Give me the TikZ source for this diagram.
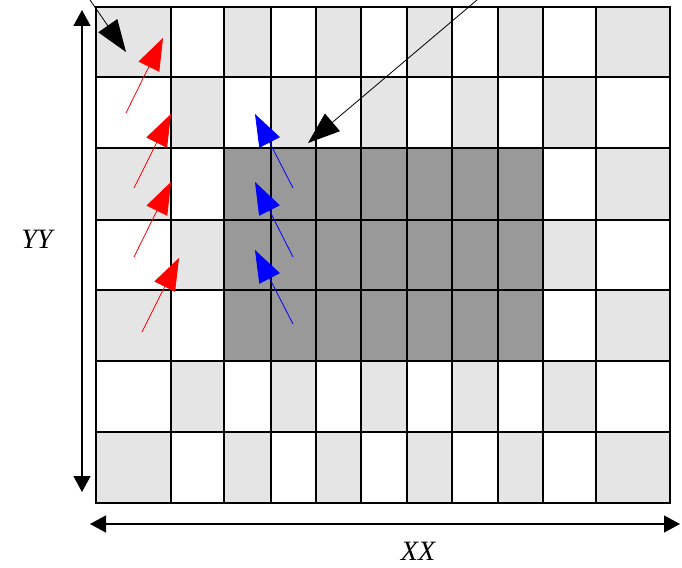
\documentclass[tikz,border=0pt]{standalone}
\usepackage{fontspec}
\setmainfont{Liberation Serif}
\usetikzlibrary{arrows.meta, positioning}

\begin{document}
\begin{tikzpicture}[
    x=1pt, y=-1pt,
    lightcell/.style={fill=black!10},
    darkcell/.style={fill=black!40},
    gridline/.style={draw=black, line width=1.3pt, line cap=rect},
    axis/.style={line width=1.4pt, {Triangle[length=16pt, width=17pt]}-{Triangle[length=16pt, width=17pt]}},
    pointer/.style={line width=0.8pt, -{Triangle[length=32pt, width=23pt]}},
    axislabel/.style={font=\fontsize{28}{32}\selectfont\itshape, inner sep=0pt}
]
\useasboundingbox (0,0) rectangle (682,567);
\foreach \xa/\xb [count=\i] in {96/171,171/224,224/271,271/316,316/361,361/407,407/452,452/498,498/543,543/596,596/670}
  \foreach \ya/\yb [count=\j] in {7/77,77/148,148/220,220/290,290/361,361/432,432/503} {
    \pgfmathtruncatemacro{\cellpar}{mod(\i+\j,2)}
    \ifnum\cellpar=0 \fill[lightcell] (\xa,\ya) rectangle (\xb,\yb); \fi
  }
\fill[darkcell] (224,148) rectangle (543,361);
\foreach \x in {96,171,224,271,316,361,407,452,498,543,596,670}
  \draw[gridline] (\x,7) -- (\x,503);
\foreach \y in {7,77,148,220,290,361,432,503}
  \draw[gridline] (96,\y) -- (670,\y);

\coordinate (ytop) at (82,10);
\coordinate (ybot) at (82,492);
\coordinate (xleft) at (90,524);
\coordinate (xright) at (680,524);
\draw[axis] (ytop) -- (ybot);
\draw[axis] (xleft) -- (xright);
\node[axislabel] (ylabel) at (37,239) {YY};
\node[axislabel] (xlabel) at (418,551) {XX};

\coordinate (black1-tail) at (90,0);
\coordinate (black1-tip) at (126,52);
\coordinate (black2-tail) at (477,0);
\coordinate (black2-tip) at (308,143);
\draw[pointer] (black1-tail) -- (black1-tip);
\draw[pointer] (black2-tail) -- (black2-tip);

\foreach \tx/\ty/\hx/\hy [count=\k] in {126/113/163/38, 134/188/171/114, 134/257/171/182, 142/332/179/258} {
  \coordinate (red\k-tail) at (\tx,\ty);
  \coordinate (red\k-tip) at (\hx,\hy);
  \draw[pointer, red] (red\k-tail) -- (red\k-tip);
}
\foreach \tx/\ty/\hx/\hy [count=\k] in {293/188/255/114, 293/257/255/182, 293/324/255/250} {
  \coordinate (blue\k-tail) at (\tx,\ty);
  \coordinate (blue\k-tip) at (\hx,\hy);
  \draw[pointer, blue] (blue\k-tail) -- (blue\k-tip);
}
\end{tikzpicture}
\end{document}
